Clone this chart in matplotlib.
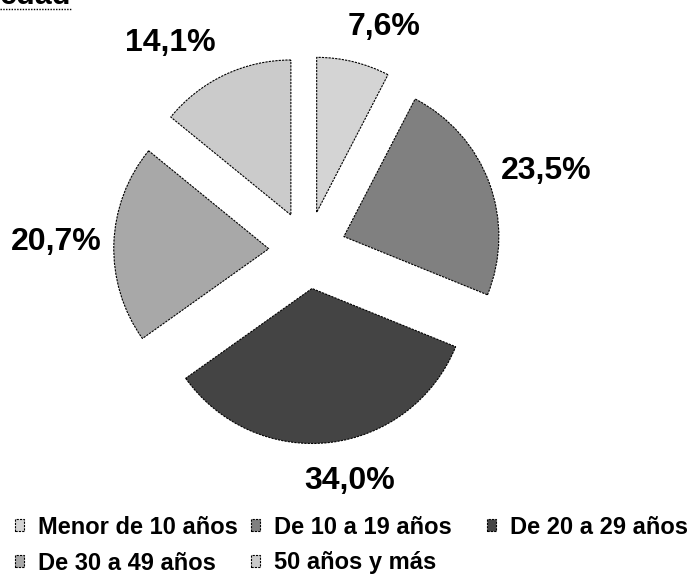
import numpy as np
import matplotlib
matplotlib.use("Agg")
import matplotlib.pyplot as plt
from matplotlib.patches import Patch
from matplotlib.lines import Line2D

plt.rcParams['font.family'] = ['Liberation Sans', 'DejaVu Sans']
plt.rcParams['font.weight'] = 'bold'

# datos
categorias = ['Menor de 10 años', 'De 10 a 19 años', 'De 20 a 29 años',
              'De 30 a 49 años', '50 años y más']
porcentajes = [7.6, 23.5, 34.0, 20.7, 14.1]
colores = ['#d4d4d4', '#808080', '#444444', '#a8a8a8', '#cbcbcb']
etiquetas = [f"{v:.1f}".replace('.', ',') + '%' for v in porcentajes]

# ajuste de etiquetas: distancia (en radios) y giro (grados) respecto a la bisectriz
dist_etq = [1.54, 1.63, 1.49, 1.62, 1.62]
giro_etq = [-4.9, -1.1, 3.8, -0.7, 7.6]

W, H = 692, 578
R = 155.0            # radio en pixeles
cx, cy = 307.5, 250  # centro (pixeles, desde arriba)

fig = plt.figure(figsize=(W / 100, H / 100), dpi=100)
ax = fig.add_axes([0, 0, 1, 1])

wedges, texts = ax.pie(
    porcentajes,
    labels=etiquetas,
    colors=colores,
    startangle=90,
    counterclock=False,
    explode=[0.25] * len(porcentajes),
    radius=1.0,
    wedgeprops=dict(edgecolor='black', linewidth=0.8, linestyle=(0, (2, 1))),
    textprops=dict(fontsize=23, fontweight='bold', color='black'),
)
for w, t, d, g in zip(wedges, texts, dist_etq, giro_etq):
    th = np.deg2rad((w.theta1 + w.theta2) / 2 + g)
    t.set_position((d * np.cos(th), d * np.sin(th)))
    t.set_ha('center')
    t.set_va('center_baseline')

ax.set_xlim(-cx / R, (W - cx) / R)
ax.set_ylim(-(H - cy) / R, cy / R)
ax.set_aspect('equal', adjustable='box')
ax.axis('off')

# leyenda en rejilla de 3 columnas (como en Excel)
col_x0, col_w = 15, 236
fila_y = [527, 563]
for i, (cat, col) in enumerate(zip(categorias, colores)):
    fila, c = divmod(i, 3)
    h = Patch(facecolor=col, edgecolor='black', linewidth=0.8,
              linestyle=(0, (2, 1)), label=cat)
    fig.legend(handles=[h], loc='center left', frameon=False,
               handlelength=0.36, handleheight=0.36, handletextpad=0.62,
               borderpad=0, borderaxespad=0,
               prop=dict(family=['Liberation Sans', 'DejaVu Sans'], weight='bold', size=17),
               bbox_to_anchor=((col_x0 + c * col_w) / W, 1 - fila_y[fila] / H))

# titulo cortado arriba
fig.text(0.0, 1 - 4 / H, 'edad', fontsize=22, fontweight='bold', ha='left', va='baseline')
fig.add_artist(Line2D([0, 72 / W], [1 - 8.5 / H, 1 - 8.5 / H], color='black',
                      linewidth=1.0, linestyle=(0, (1, 1))))

fig.savefig('out.png', dpi=100)
